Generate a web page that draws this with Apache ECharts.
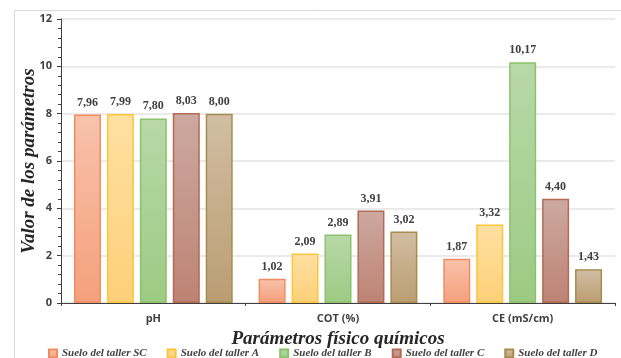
<!DOCTYPE html>
<html><head><meta charset="utf-8">
<script src="https://cdn.jsdelivr.net/npm/echarts@6/dist/echarts.min.js"></script>
<style>html,body{margin:0;padding:0;background:#fff}#c{width:621px;height:358px}</style>
</head><body><div id="c"></div>
<script>
const categories = ['pH', 'COT (%)', 'CE (mS/cm)'];
const seriesNames = ['Suelo del taller SC', 'Suelo del taller A', 'Suelo del taller B', 'Suelo del taller C', 'Suelo del taller D'];
const valuesSC = [7.96, 1.02, 1.87];
const valuesA = [7.99, 2.09, 3.32];
const valuesB = [7.80, 2.89, 10.17];
const valuesC = [8.03, 3.91, 4.40];
const valuesD = [8.00, 3.02, 1.43];
const yTicks = [0, 2, 4, 6, 8, 10, 12];

const allValues = [valuesSC, valuesA, valuesB, valuesC, valuesD];
const styles = [
  {top:'#f8c2ab', bottom:'#f4a07c', border:'#f08c62'},
  {top:'#fee0a2', bottom:'#fdd078', border:'#fcc63c'},
  {top:'#b8d8a8', bottom:'#9cca83', border:'#8cc26a'},
  {top:'#cda9a1', bottom:'#bd8374', border:'#b56a52'},
  {top:'#d1bea4', bottom:'#bb9d72', border:'#a88c4c'}
];
const serif = '"Liberation Serif","DejaVu Serif",serif';
const sans = '"Open Sans","Noto Sans",sans-serif';

const chart = echarts.init(document.getElementById('c'), null, {renderer:'canvas'});
chart.setOption({
  animation: false,
  backgroundColor: '#fff',
  graphic: [{type:'rect', left:12, top:8, shape:{width:640, height:380}, style:{fill:'none', stroke:'#d9d9d9', lineWidth:1}, silent:true, z:-1}],
  grid: {left:61, right:6, top:19, bottom:55, containLabel:false, outerBoundsMode:'none'},
  legend: {
    top: 343, left: 43, itemWidth: 8, itemHeight: 8, itemGap: 20,
    icon: 'rect',
    textStyle: {fontFamily: serif, fontStyle:'italic', fontWeight:'bold', fontSize:11, color:'#404040'},
    data: seriesNames
  },
  xAxis: {
    type:'category', data: categories,
    name: 'Parámetros físico químicos', nameLocation:'middle', nameGap: 27,
    nameTextStyle: {fontFamily: serif, fontStyle:'italic', fontWeight:'bold', fontSize:19, color:'#262626'},
    axisLine: {lineStyle:{color:'#404040', width:1}},
    axisTick: {show:true, length:3, lineStyle:{color:'#404040'}},
    axisLabel: {fontFamily: sans, fontWeight:'bold', fontSize:11, color:'#404040', margin:10}
  },
  yAxis: {
    type:'value', min: yTicks[0], max: yTicks[yTicks.length-1], interval: 2,
    name: 'Valor de los parámetros', nameLocation:'middle', nameGap: 22, nameMoveOverlap: false,
    nameTextStyle: {fontFamily: serif, fontStyle:'italic', fontWeight:'bold', fontSize:19, color:'#262626'},
    axisLine: {show:true, lineStyle:{color:'#404040', width:1}},
    axisTick: {show:true, length:4, lineStyle:{color:'#404040'}},
    minorTick: {show:true, splitNumber:5, length:3, lineStyle:{color:'#404040'}},
    splitLine: {lineStyle:{color:'#e3e3e3', width:1.5}},
    axisLabel: {fontFamily: sans, fontWeight:'bold', fontSize:11, color:'#404040', margin:9}
  },
  series: seriesNames.map((n, i) => ({
    name: n, type:'bar', data: allValues[i], barWidth: 27, barGap: '22%',
    itemStyle: {
      color: new echarts.graphic.LinearGradient(0,0,0,1,[{offset:0,color:styles[i].top},{offset:1,color:styles[i].bottom}]),
      borderColor: styles[i].border, borderWidth: 1.5
    },
    label: {show:true, position:'top', distance:6, fontFamily: serif, fontWeight:'bold', fontSize:12, color:'#404040',
      formatter: p => p.value.toFixed(2).replace('.', ',')}
  }))
});
</script></body></html>
